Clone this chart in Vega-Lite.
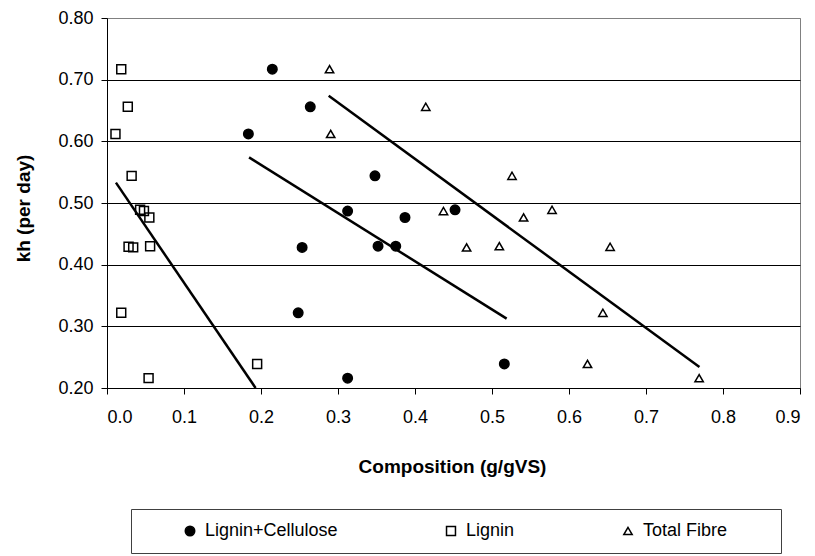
{
  "$schema": "https://vega.github.io/schema/vega-lite/v6.json",
  "width": 693,
  "height": 370,
  "autosize": {"type": "none"},
  "padding": {"left": 107, "top": 18, "right": 15, "bottom": 168},
  "background": "white",
  "config": {
    "view": {"stroke": "#808080", "strokeWidth": 1},
    "font": "Liberation Sans",
    "axis": {
      "labelFont": "Liberation Sans",
      "labelFontSize": 18,
      "labelColor": "#000",
      "titleFont": "Liberation Sans",
      "titleFontSize": 19,
      "titleFontWeight": "bold",
      "titleColor": "#000",
      "domainColor": "#000",
      "domainWidth": 1,
      "tickColor": "#000",
      "tickSize": 6,
      "tickWidth": 1
    },
    "legend": {
      "orient": "none",
      "legendX": 24,
      "legendY": 491,
      "direction": "horizontal",
      "strokeColor": "#404040",
      "strokeWidth": 1,
      "padding": 13,
      "columnPadding": 104,
      "labelFont": "Liberation Sans",
      "labelFontSize": 18,
      "labelColor": "#000",
      "labelOffset": 6,
      "labelLimit": 400,
      "symbolStrokeWidth": 1.5,
      "titleOrient": "left",
      "titlePadding": 37,
      "titleFontSize": 18
    }
  },
  "layer": [
    {
      "data": {
        "values": [
          {"series": "Lignin+Cellulose", "comp": 0.2147, "kh": 0.717},
          {"series": "Lignin+Cellulose", "comp": 0.264, "kh": 0.656},
          {"series": "Lignin+Cellulose", "comp": 0.1836, "kh": 0.612},
          {"series": "Lignin+Cellulose", "comp": 0.348, "kh": 0.544},
          {"series": "Lignin+Cellulose", "comp": 0.452, "kh": 0.489},
          {"series": "Lignin+Cellulose", "comp": 0.3125, "kh": 0.487},
          {"series": "Lignin+Cellulose", "comp": 0.387, "kh": 0.4765},
          {"series": "Lignin+Cellulose", "comp": 0.2534, "kh": 0.428},
          {"series": "Lignin+Cellulose", "comp": 0.352, "kh": 0.430},
          {"series": "Lignin+Cellulose", "comp": 0.375, "kh": 0.430},
          {"series": "Lignin+Cellulose", "comp": 0.2483, "kh": 0.322},
          {"series": "Lignin+Cellulose", "comp": 0.516, "kh": 0.239},
          {"series": "Lignin+Cellulose", "comp": 0.3125, "kh": 0.216},
          {"series": "Lignin", "comp": 0.0185, "kh": 0.717},
          {"series": "Lignin", "comp": 0.027, "kh": 0.656},
          {"series": "Lignin", "comp": 0.011, "kh": 0.612},
          {"series": "Lignin", "comp": 0.032, "kh": 0.544},
          {"series": "Lignin", "comp": 0.043, "kh": 0.489},
          {"series": "Lignin", "comp": 0.048, "kh": 0.487},
          {"series": "Lignin", "comp": 0.055, "kh": 0.4765},
          {"series": "Lignin", "comp": 0.028, "kh": 0.429},
          {"series": "Lignin", "comp": 0.034, "kh": 0.428},
          {"series": "Lignin", "comp": 0.056, "kh": 0.430},
          {"series": "Lignin", "comp": 0.0185, "kh": 0.322},
          {"series": "Lignin", "comp": 0.195, "kh": 0.239},
          {"series": "Lignin", "comp": 0.054, "kh": 0.216},
          {"series": "Total Fibre", "comp": 0.289, "kh": 0.717},
          {"series": "Total Fibre", "comp": 0.414, "kh": 0.656},
          {"series": "Total Fibre", "comp": 0.2905, "kh": 0.612},
          {"series": "Total Fibre", "comp": 0.526, "kh": 0.544},
          {"series": "Total Fibre", "comp": 0.578, "kh": 0.489},
          {"series": "Total Fibre", "comp": 0.437, "kh": 0.487},
          {"series": "Total Fibre", "comp": 0.541, "kh": 0.4765},
          {"series": "Total Fibre", "comp": 0.467, "kh": 0.428},
          {"series": "Total Fibre", "comp": 0.5095, "kh": 0.430},
          {"series": "Total Fibre", "comp": 0.6534, "kh": 0.429},
          {"series": "Total Fibre", "comp": 0.644, "kh": 0.322},
          {"series": "Total Fibre", "comp": 0.624, "kh": 0.239},
          {"series": "Total Fibre", "comp": 0.769, "kh": 0.216}
        ]
      },
      "mark": {"type": "point", "strokeWidth": 1.5, "opacity": 1, "filled": false},
      "encoding": {
        "x": {
          "field": "comp", "type": "quantitative",
          "scale": {"domain": [0, 0.9], "nice": false, "zero": false},
          "axis": {
            "values": [0, 0.1, 0.2, 0.3, 0.4, 0.5, 0.6, 0.7, 0.8, 0.9],
            "format": ".1f",
            "grid": false,
            "labelPadding": 14,
            "title": "Composition (g/gVS)",
            "titleX": 345,
            "titleY": 69,
            "titleBaseline": "top",
            "titleAlign": "center",
            "titleAnchor": "middle"
          }
        },
        "y": {
          "field": "kh", "type": "quantitative",
          "scale": {"domain": [0.2, 0.8], "nice": false, "zero": false},
          "axis": {
            "values": [0.2, 0.3, 0.4, 0.5, 0.6, 0.7, 0.8],
            "format": ".2f",
            "grid": true,
            "gridColor": {"condition": {"test": "datum.value >= 0.79", "value": "#808080"}, "value": "#000"},
            "gridWidth": 1,
            "labelPadding": 8,
            "title": "kh (per day)",
            "titleAngle": 270,
            "titleX": -74,
            "titleY": 190,
            "titleBaseline": "bottom",
            "titleAlign": "center",
            "titleAnchor": "middle"
          }
        },
        "shape": {
          "field": "series", "type": "nominal",
          "scale": {"domain": ["Lignin+Cellulose", "Lignin", "Total Fibre"], "range": ["circle", "square", "triangle-up"]},
          "legend": {"title": " ", "labelExpr": "datum.label == 'Total Fibre' ? datum.label + '\u00a0\u00a0\u00a0\u00a0\u00a0\u00a0\u00a0\u00a0\u200b' : datum.label"}
        },
        "fill": {
          "field": "series", "type": "nominal",
          "scale": {"domain": ["Lignin+Cellulose", "Lignin", "Total Fibre"], "range": ["#000000", "rgba(255,255,255,0)", "rgba(255,255,255,0)"]},
          "legend": {"title": " ", "labelExpr": "datum.label == 'Total Fibre' ? datum.label + '\u00a0\u00a0\u00a0\u00a0\u00a0\u00a0\u00a0\u00a0\u200b' : datum.label"}
        },
        "stroke": {
          "field": "series", "type": "nominal",
          "scale": {"domain": ["Lignin+Cellulose", "Lignin", "Total Fibre"], "range": ["#000000", "#000000", "#000000"]},
          "legend": {"title": " ", "labelExpr": "datum.label == 'Total Fibre' ? datum.label + '\u00a0\u00a0\u00a0\u00a0\u00a0\u00a0\u00a0\u00a0\u200b' : datum.label"}
        },
        "size": {
          "field": "series", "type": "nominal",
          "scale": {"domain": ["Lignin+Cellulose", "Lignin", "Total Fibre"], "range": [90, 70, 160]},
          "legend": {"title": " ", "labelExpr": "datum.label == 'Total Fibre' ? datum.label + '\u00a0\u00a0\u00a0\u00a0\u00a0\u00a0\u00a0\u00a0\u200b' : datum.label"}
        }
      }
    },
    {
      "data": {
        "values": [
          {"series": "Lignin", "comp": 0.0116, "kh": 0.533},
          {"series": "Lignin", "comp": 0.193, "kh": 0.200},
          {"series": "Lignin+Cellulose", "comp": 0.1845, "kh": 0.574},
          {"series": "Lignin+Cellulose", "comp": 0.519, "kh": 0.3125},
          {"series": "Total Fibre", "comp": 0.2879, "kh": 0.674},
          {"series": "Total Fibre", "comp": 0.7694, "kh": 0.234}
        ]
      },
      "mark": {"type": "line", "color": "#000", "strokeWidth": 2.5},
      "encoding": {
        "x": {"field": "comp", "type": "quantitative"},
        "y": {"field": "kh", "type": "quantitative"},
        "detail": {"field": "series", "type": "nominal"}
      }
    }
  ]
}
